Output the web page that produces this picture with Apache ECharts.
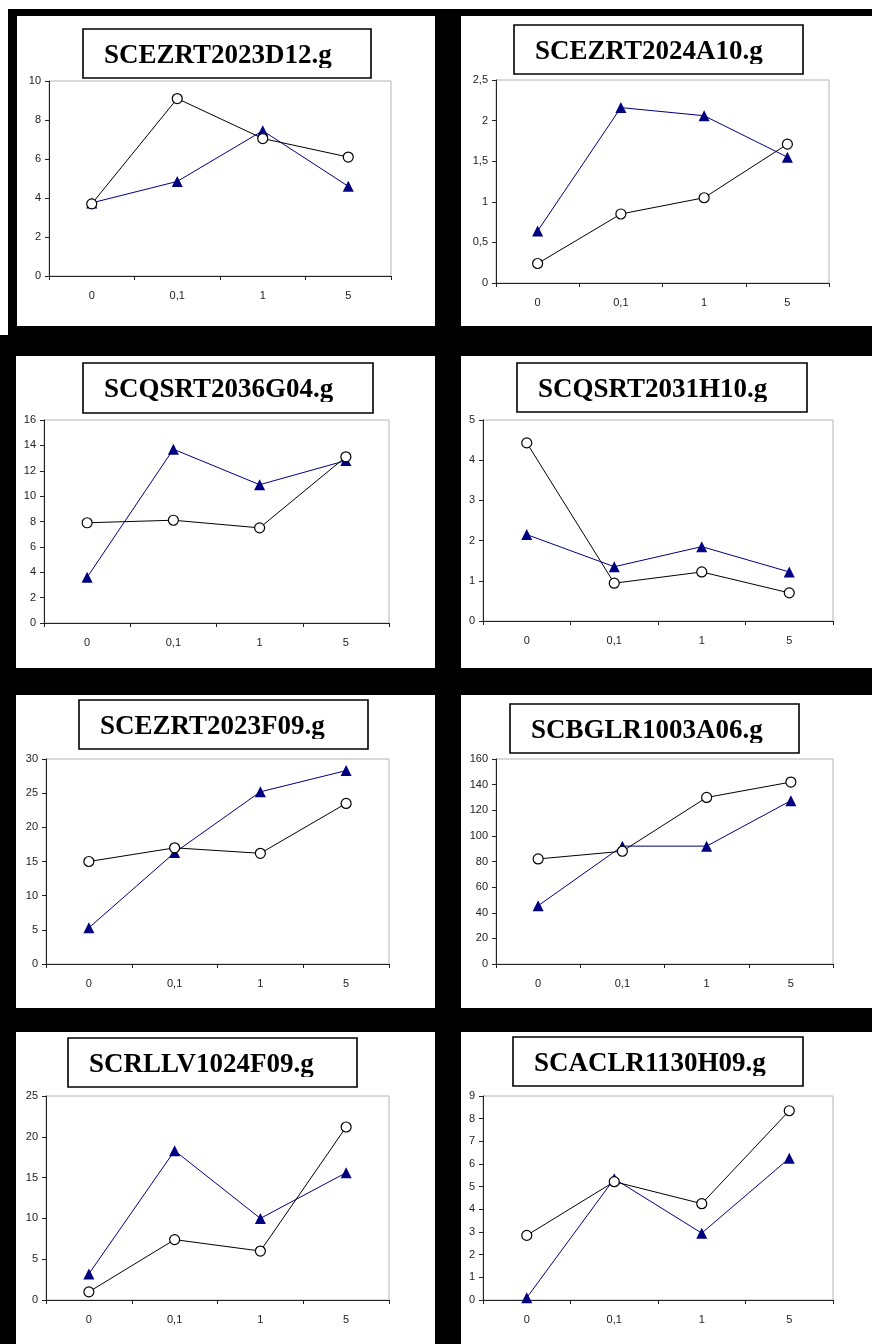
<!DOCTYPE html>
<html>
<head>
<meta charset="utf-8">
<script src="https://cdn.jsdelivr.net/npm/echarts@6/dist/echarts.min.js"></script>
<style>
  html, body { margin: 0; padding: 0; background: #000; }
  #c { width: 872px; height: 1344px; }
</style>
</head>
<body>
<div id="c"></div>
<script>
// Gene names, one per panel (left to right, top to bottom)
const titles = [
  'SCEZRT2023D12.g', 'SCEZRT2024A10.g',
  'SCQSRT2036G04.g', 'SCQSRT2031H10.g',
  'SCEZRT2023F09.g', 'SCBGLR1003A06.g',
  'SCRLLV1024F09.g', 'SCACLR1130H09.g'
];

// Treatment doses on the x axis
const doses = ['0', '0,1', '1', '5'];

// Open-circle series (black line)
const circleValues = [
  [3.7, 9.1, 7.05, 6.1],
  [0.24, 0.85, 1.05, 1.71],
  [7.9, 8.1, 7.5, 13.1],
  [4.43, 0.94, 1.22, 0.70],
  [15.0, 17.0, 16.2, 23.5],
  [82, 88, 130, 142],
  [1.0, 7.4, 6.0, 21.2],
  [2.85, 5.22, 4.25, 8.35]
];

// Filled-triangle series (navy line)
const triangleValues = [
  [3.75, 4.85, 7.45, 4.6],
  [0.64, 2.16, 2.06, 1.55],
  [3.6, 13.7, 10.9, 12.8],
  [2.15, 1.35, 1.85, 1.22],
  [5.3, 16.3, 25.2, 28.3],
  [45.5, 92, 92, 127.5],
  [3.2, 18.3, 10.0, 15.6],
  [0.1, 5.35, 2.95, 6.25]
];

// Y axis range and tick step per panel
const yMax = [10, 2.5, 16, 5, 30, 160, 25, 9];
const yStep = [2, 0.5, 2, 1, 5, 20, 5, 1];

// ---- layout (pixels): [left, top, right, bottom] ----
const panelRects = [
  [17, 16, 435, 326], [461, 16, 872, 326],
  [16, 356, 435, 668], [461, 356, 872, 668],
  [16, 695, 435, 1008], [461, 695, 872, 1008],
  [16, 1032, 435, 1344], [461, 1032, 872, 1344]
];
const titleBoxes = [
  [83, 29, 371, 78], [514, 25, 803, 74],
  [83, 363, 373, 413], [517, 363, 807, 412],
  [79, 700, 368, 749], [510, 704, 799, 753],
  [68, 1038, 357, 1087], [513, 1037, 803, 1086]
];
const plotRects = [
  [49, 81, 391, 276], [496, 80, 829, 283],
  [44, 420, 389, 623], [483, 420, 833, 621],
  [46, 759, 389, 964], [496, 759, 833, 964],
  [46, 1096, 389, 1300], [483, 1096, 833, 1300]
];

const TITLE_FONT = 27;
const axisColor = '#222';
const labelFont = { fontSize: 11, color: '#222', fontFamily: '"Liberation Sans", Arial, sans-serif' };
const comma = v => String(v).replace('.', ',');

const grids = [], xAxes = [], yAxes = [], series = [], graphics = [];

// page frame: black background with a thin white margin at the top-left
graphics.push({ type: 'rect', z: -10, shape: { x: 0, y: 0, width: 872, height: 9 }, style: { fill: '#fff' }, silent: true });
graphics.push({ type: 'rect', z: -10, shape: { x: 0, y: 0, width: 8, height: 335 }, style: { fill: '#fff' }, silent: true });

titles.forEach((title, i) => {
  const [pl, pt, pr, pb] = panelRects[i];
  graphics.push({ type: 'rect', z: -9, silent: true,
    shape: { x: pl, y: pt, width: pr - pl, height: pb - pt },
    style: { fill: '#fff' } });

  const [bl, bt, br, bb] = titleBoxes[i];
  const baseline = bt + 36.5;
  graphics.push({ type: 'rect', z: 100, silent: true,
    shape: { x: bl, y: bt, width: br - bl, height: bb - bt },
    style: { fill: '#fff', stroke: '#000', lineWidth: 1.6 } });
  graphics.push({ type: 'text', z: 101, silent: true,
    x: bl + 21, y: baseline - 0.3375 * TITLE_FONT,
    style: { text: title, fill: '#000', font: 'bold ' + TITLE_FONT + 'px "Liberation Serif", "Times New Roman", serif',
      align: 'left', verticalAlign: 'middle' } });
  // text frame crops the glyph descenders just below the baseline
  graphics.push({ type: 'rect', z: 102, silent: true,
    shape: { x: bl + 2, y: baseline + 2.5, width: br - bl - 4, height: bb - baseline - 4 },
    style: { fill: '#fff' } });

  const [gl, gt, gr, gb] = plotRects[i];
  grids.push({ left: gl, top: gt, width: gr - gl, height: gb - gt, show: true,
    borderColor: '#b4b4b4', borderWidth: 1, backgroundColor: 'transparent', containLabel: false });

  xAxes.push({ type: 'category', gridIndex: i, data: doses, boundaryGap: true,
    axisLine: { show: true, lineStyle: { color: axisColor, width: 1 } },
    axisTick: { show: true, inside: false, length: 4, alignWithLabel: false, lineStyle: { color: axisColor } },
    axisLabel: Object.assign({ margin: 14 }, labelFont),
    splitLine: { show: false } });

  yAxes.push({ type: 'value', gridIndex: i, min: 0, max: yMax[i], interval: yStep[i],
    axisLine: { show: true, lineStyle: { color: axisColor, width: 1 } },
    axisTick: { show: true, inside: false, length: 4, lineStyle: { color: axisColor } },
    axisLabel: Object.assign({ margin: 8, formatter: comma }, labelFont),
    splitLine: { show: false } });

  series.push({ type: 'line', xAxisIndex: i, yAxisIndex: i, z: 2,
    data: triangleValues[i], symbol: 'triangle', symbolSize: 11, showSymbol: true,
    lineStyle: { color: '#000080', width: 1 },
    itemStyle: { color: '#000080', borderWidth: 0 },
    emphasis: { disabled: true }, silent: true });

  series.push({ type: 'line', xAxisIndex: i, yAxisIndex: i, z: 3,
    data: circleValues[i], symbol: 'circle', symbolSize: 10, showSymbol: true,
    lineStyle: { color: '#000', width: 1 },
    itemStyle: { color: '#fff', borderColor: '#000', borderWidth: 1.2 },
    emphasis: { disabled: true }, silent: true });
});

const chart = echarts.init(document.getElementById('c'), null, { renderer: 'canvas' });
chart.setOption({
  backgroundColor: '#000',
  animation: false,
  grid: grids,
  xAxis: xAxes,
  yAxis: yAxes,
  series: series,
  graphic: graphics
});
</script>
</body>
</html>
